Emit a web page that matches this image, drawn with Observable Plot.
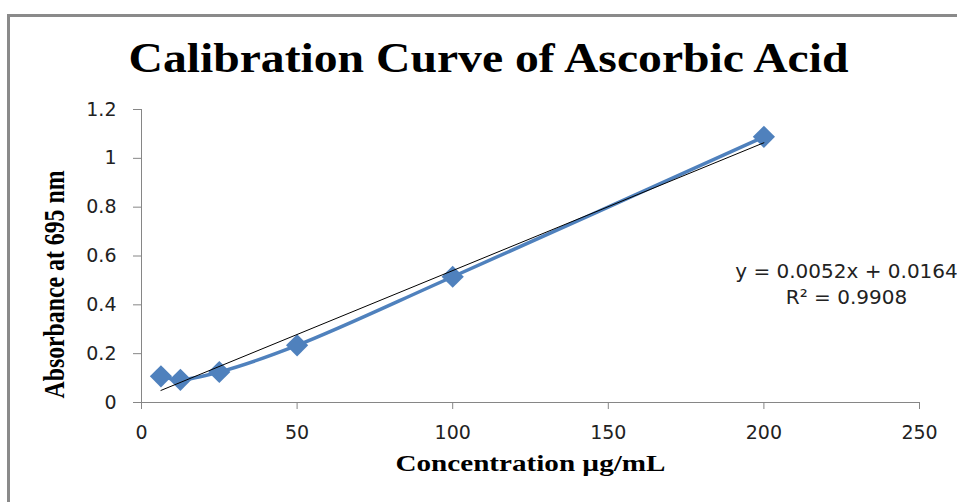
<!DOCTYPE html>
<html><head><meta charset="utf-8">
<script src="https://cdn.jsdelivr.net/npm/d3@7"></script>
<script src="https://cdn.jsdelivr.net/npm/@observablehq/plot@0.6"></script>
<style>
body{margin:0;background:#fff;}
#wrap{position:relative;width:957px;height:502px;overflow:hidden;background:#fff;}
#frame{position:absolute;left:7px;top:14px;width:1200px;height:800px;border-top:3px solid #8a8a8a;border-left:3px solid #8a8a8a;z-index:2;pointer-events:none;}
</style></head><body>
<div id="wrap"><div id="frame"></div></div>
<script>
const concentration = [6.25, 12.5, 25, 50, 100, 200];
const absorbance = [0.107, 0.093, 0.125, 0.234, 0.515, 1.088];
const xTicks = [0, 50, 100, 150, 200, 250];
const yTicks = [0, 0.2, 0.4, 0.6, 0.8, 1, 1.2];
const titleText = "Calibration Curve of Ascorbic Acid";
const xLabel = "Concentration µg/mL";
const yLabel = "Absorbance at 695 nm";
const equationLines = ["y = 0.0052x + 0.0164", "R² = 0.9908"];

const data = concentration.map((c, i) => ({c, a: absorbance[i]}));
const blue = "#4F81BD";
const axisGray = "#868686";
const serif = "'Liberation Serif', 'Times New Roman', serif";

const chart = Plot.plot({
  width: 957,
  height: 502,
  marginLeft: 141,
  marginRight: 38,
  marginTop: 109,
  marginBottom: 100,
  style: {fontFamily: "'DejaVu Sans', sans-serif", fontSize: "19px", background: "transparent", overflow: "visible"},
  x: {domain: [0, 250], label: null},
  y: {domain: [0, 1.2], label: null},
  marks: [
    Plot.ruleY([0], {stroke: axisGray, strokeWidth: 1}),
    Plot.ruleX([0], {stroke: axisGray, strokeWidth: 1}),
    Plot.axisX({ticks: xTicks, tickSize: 7, tickPadding: 16, stroke: axisGray, fill: "#222", label: null, tickFormat: d => `${d}`}),
    Plot.axisY({ticks: yTicks, tickSize: 8, tickPadding: 17, stroke: axisGray, fill: "#222", label: null, tickFormat: d => `${d}`}),
    Plot.line(data, {x: "c", y: "a", curve: "catmull-rom", stroke: blue, strokeWidth: 3.5}),
    Plot.dot(data, {x: "c", y: "a", symbol: "diamond2", r: 10, fill: blue, stroke: "none"}),
    Plot.linearRegressionY(data, {x: "c", y: "a", stroke: "#000", strokeWidth: 1, ci: 0}),
    Plot.text([titleText], {text: d => d, frameAnchor: "top", textAnchor: "middle", lineAnchor: "bottom", dx: -42, dy: -38,
      fontFamily: serif, fontWeight: "bold", fontSize: 42, fill: "#000"}),
    Plot.text([xLabel], {text: d => d, frameAnchor: "bottom", textAnchor: "middle", lineAnchor: "bottom", dy: 68,
      fontFamily: serif, fontWeight: "bold", fontSize: 23, fill: "#000"}),
    Plot.text([yLabel], {text: d => d, frameAnchor: "left", textAnchor: "middle", lineAnchor: "bottom", rotate: -90, dx: -78, dy: 28.5,
      fontFamily: serif, fontWeight: "bold", fontSize: 30, fill: "#000"}),
    Plot.text([equationLines.join("\n")], {text: d => d, frameAnchor: "top-left", lineAnchor: "bottom", lineHeight: 1.3,
      dx: 705, dy: 194, textAnchor: "middle", fontSize: 20, fill: "#222"})
  ]
});

const lengths = new Map([[titleText, 720], [xLabel, 270], [yLabel, 228]]);
chart.querySelectorAll("text").forEach(t => {
  const len = lengths.get(t.textContent);
  if (len) {
    t.setAttribute("textLength", len);
    t.setAttribute("lengthAdjust", "spacingAndGlyphs");
  }
});

chart.style.position = "absolute";
chart.style.left = "0";
chart.style.top = "0";
document.getElementById("wrap").appendChild(chart);
</script>
</body></html>
